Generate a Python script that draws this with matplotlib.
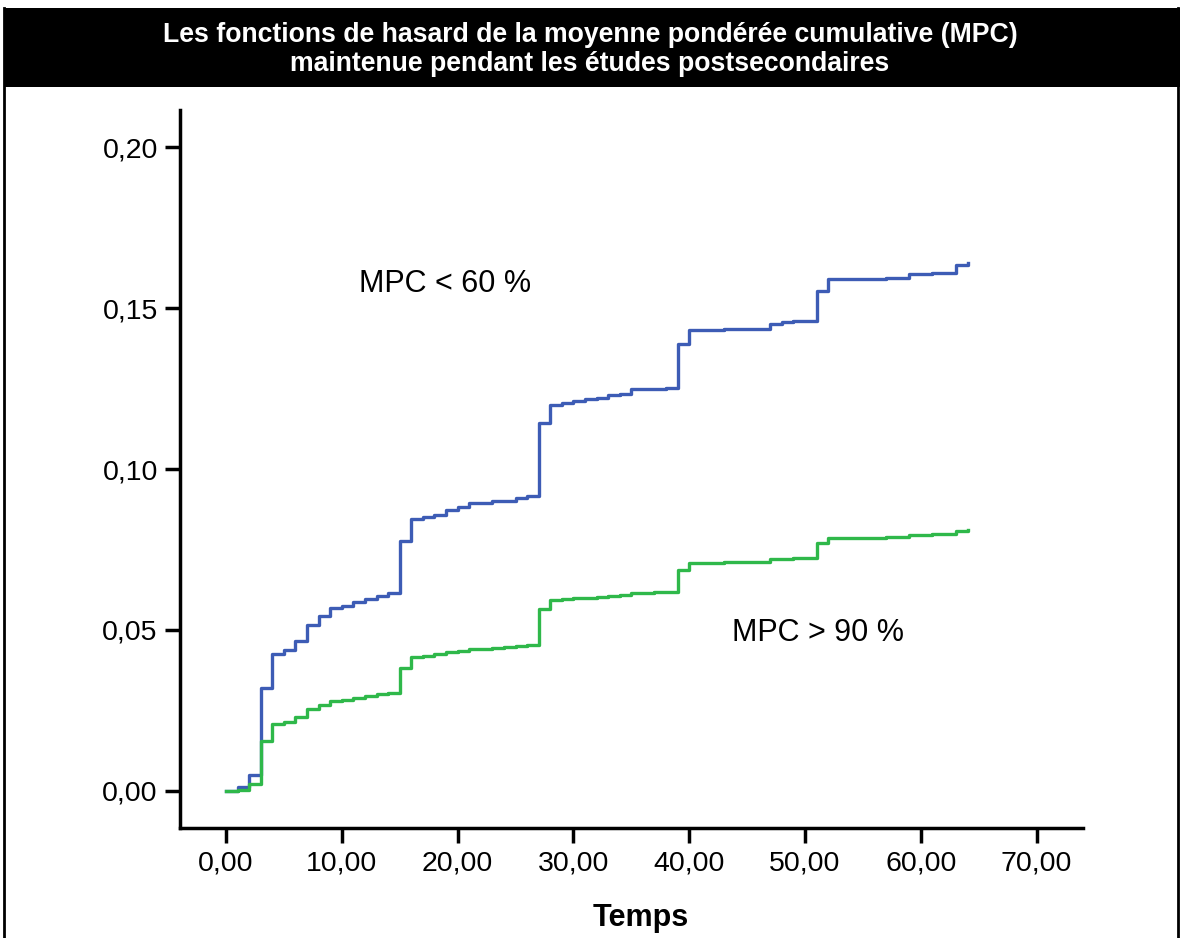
import matplotlib
matplotlib.use("Agg")
import matplotlib.pyplot as plt
from matplotlib.lines import Line2D
from matplotlib.patches import Rectangle
from matplotlib.ticker import FuncFormatter

plt.rcParams['font.family'] = ['Liberation Sans', 'DejaVu Sans']

# step times (event times) and cumulative hazard values
times = [0, 1, 2, 3, 4, 5, 6, 7, 8, 9, 10, 11, 12, 13, 14, 15, 16, 17, 18, 19,
         20, 21, 23, 24, 25, 26, 27, 28, 29, 30, 31, 32, 33, 34, 35, 37, 38, 39,
         40, 43, 47, 48, 49, 51, 52, 57, 59, 61, 63, 64.05]
hazard_low = [0.0, 0.0013, 0.0050, 0.0319, 0.0424, 0.0438, 0.0466, 0.0515, 0.0543,
              0.0567, 0.0575, 0.0588, 0.0595, 0.0606, 0.0614, 0.0775, 0.0845, 0.0850,
              0.0857, 0.0874, 0.0881, 0.0893, 0.0900, 0.0902, 0.0911, 0.0916, 0.1142,
              0.1199, 0.1204, 0.1212, 0.1217, 0.1222, 0.1230, 0.1233, 0.1247, 0.1250,
              0.1253, 0.1387, 0.1433, 0.1436, 0.1450, 0.1457, 0.1460, 0.1553, 0.1589,
              0.1592, 0.1606, 0.1610, 0.1634, 0.1640]
hazard_high = [0.0, 0.0003, 0.0022, 0.0156, 0.0208, 0.0215, 0.0229, 0.0254, 0.0267,
               0.0280, 0.0284, 0.0290, 0.0295, 0.0300, 0.0305, 0.0382, 0.0417, 0.0420,
               0.0425, 0.0432, 0.0435, 0.0441, 0.0444, 0.0446, 0.0450, 0.0453, 0.0565,
               0.0593, 0.0595, 0.0598, 0.0600, 0.0603, 0.0607, 0.0609, 0.0615, 0.0617,
               0.0618, 0.0685, 0.0709, 0.0711, 0.0719, 0.0722, 0.0724, 0.0769, 0.0787,
               0.0790, 0.0795, 0.0798, 0.0808, 0.0812]

label_low = "MPC < 60 %"
label_high = "MPC > 90 %"
title = ("Les fonctions de hasard de la moyenne pondérée cumulative (MPC)\n"
         "maintenue pendant les études postsecondaires")
xticks = [0, 10, 20, 30, 40, 50, 60, 70]
yticks = [0.0, 0.05, 0.10, 0.15, 0.20]

fig = plt.figure(figsize=(11.8, 9.38), dpi=100)
fig.patch.set_facecolor("white")

# black title band + frame
fig.patches.append(Rectangle((0.003, 1 - 87 / 938), 0.997, 79 / 938, transform=fig.transFigure,
                             facecolor="black", edgecolor="none", zorder=0))
fig.text(0.5, 1 - 49.5 / 938, title, color="white", fontsize=19.2, fontweight="bold",
         ha="center", va="center", linespacing=1.17)
fig.lines.append(Line2D([0.003, 0.003], [0, 1 - 8 / 938], transform=fig.transFigure,
                        color="black", lw=2))
fig.lines.append(Line2D([0.998, 0.998], [0, 1 - 8 / 938], transform=fig.transFigure,
                        color="black", lw=2))

ax = fig.add_axes([180 / 1180, 1 - 828 / 938, (1083 - 180) / 1180, (828 - 110) / 938])
ax.step(times, hazard_low, where="post", color="#3d5cb5", lw=2.4)
ax.step(times, hazard_high, where="post", color="#2fb84a", lw=2.4)

ax.text(18.9, 0.1575, label_low, fontsize=22, ha="center", va="center")
ax.text(51.1, 0.049, label_high, fontsize=22, ha="center", va="center")

ax.set_xlim(-3.97, 74.0)
ax.set_ylim(-0.0115, 0.2115)
ax.set_xticks(xticks)
ax.set_yticks(yticks)
ax.xaxis.set_major_formatter(FuncFormatter(lambda v, p: f"{v:.2f}".replace(".", ",")))
ax.yaxis.set_major_formatter(FuncFormatter(lambda v, p: f"{v:.2f}".replace(".", ",")))
ax.tick_params(direction="out", length=11, width=2.5, labelsize=20.5, pad=5)

for s in ["top", "right"]:
    ax.spines[s].set_visible(False)
for s in ["left", "bottom"]:
    ax.spines[s].set_linewidth(2.5)

ax.set_xlabel("Temps", fontsize=22, fontweight="bold")
ax.xaxis.set_label_coords(0.5105, -0.104)

fig.savefig("out.png", dpi=100)
